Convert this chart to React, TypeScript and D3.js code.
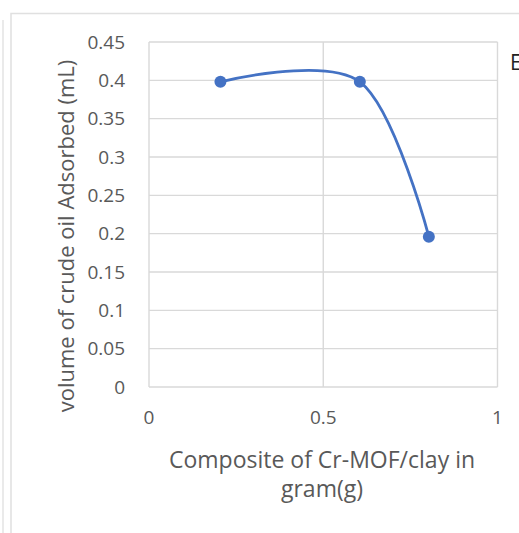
import * as d3 from "d3";
import React, { useRef, useEffect } from "react";

// composite mass (g) and oil adsorbed (mL)
const massG = [0.205, 0.605, 0.803];
const volumeML = [0.398, 0.398, 0.196];
const yTicks = [0, 0.05, 0.1, 0.15, 0.2, 0.25, 0.3, 0.35, 0.4, 0.45];
const xTicks = [0, 0.5, 1];

const W = 519;
const H = 533;

function Chart() {
  const ref = useRef<SVGSVGElement>(null);

  useEffect(() => {
    const svg = d3.select(ref.current);
    svg.selectAll("*").remove();

    const x = d3.scaleLinear().domain([0, 1]).range([149, 497.5]);
    const y = d3.scaleLinear().domain([0, 0.45]).range([387, 42]);
    const font = "'Open Sans', 'Noto Sans', sans-serif";
    const grey = "#595959";

    // frames of the chart boxes
    svg.append("line").attr("x1", 3).attr("x2", 3).attr("y1", 20).attr("y2", H)
      .attr("stroke", "#e3e3e3").attr("stroke-width", 1.5);
    svg.append("path").attr("d", `M11,${H}V13.5H${W}`)
      .attr("fill", "none").attr("stroke", "#e0e0e0").attr("stroke-width", 1.5);

    // gridlines
    svg.append("g").selectAll("line").data(yTicks).enter().append("line")
      .attr("x1", x(0)).attr("x2", x(1))
      .attr("y1", (d) => y(d)).attr("y2", (d) => y(d))
      .attr("stroke", "#d9d9d9").attr("stroke-width", 1.4);
    svg.append("g").selectAll("line").data(xTicks).enter().append("line")
      .attr("x1", (d) => x(d)).attr("x2", (d) => x(d))
      .attr("y1", y(0.45)).attr("y2", y(0))
      .attr("stroke", "#d9d9d9").attr("stroke-width", 1.4);

    // tick labels
    svg.append("g").selectAll("text").data(yTicks).enter().append("text")
      .attr("x", 125).attr("y", (d) => y(d)).attr("dy", "0.35em")
      .attr("text-anchor", "end").attr("font-family", font).attr("font-size", 19)
      .attr("fill", grey).text((d) => String(d));
    svg.append("g").selectAll("text").data(xTicks).enter().append("text")
      .attr("x", (d) => x(d)).attr("y", 417).attr("dy", "0.35em")
      .attr("text-anchor", "middle").attr("font-family", font).attr("font-size", 19)
      .attr("fill", grey).text((d) => String(d));

    // axis titles
    svg.append("text")
      .attr("transform", "translate(74,236) rotate(-90)")
      .attr("text-anchor", "middle")
      .attr("font-family", font).attr("font-size", 22).attr("fill", grey)
      .text("volume of crude oil Adsorbed (mL)");
    const xt = svg.append("text").attr("text-anchor", "middle")
      .attr("font-family", font).attr("font-size", 23).attr("fill", grey);
    xt.append("tspan").attr("x", 322).attr("y", 468).text("Composite of Cr-MOF/clay in");
    xt.append("tspan").attr("x", 322).attr("y", 497).text("gram(g)");

    // partial label at the right edge
    svg.append("text").attr("x", 510).attr("y", 70)
      .attr("font-family", font).attr("font-size", 21).attr("fill", "#222")
      .text("E");

    // smoothed series line
    const pts = massG.map((m, i) => [m, volumeML[i]] as [number, number]);
    const line = d3.line<[number, number]>()
      .x((d) => x(d[0])).y((d) => y(d[1]))
      .curve(d3.curveCardinal.tension(0));
    svg.append("path").datum(pts).attr("d", line)
      .attr("fill", "none").attr("stroke", "#4472c4").attr("stroke-width", 2.8);

    svg.append("g").selectAll("circle").data(pts).enter().append("circle")
      .attr("cx", (d) => x(d[0])).attr("cy", (d) => y(d[1])).attr("r", 6)
      .attr("fill", "#4472c4");
  }, []);

  return <svg ref={ref} width={W} height={H} style={{ display: "block" }} />;
}

export default function App() {
  return (
    <div style={{ position: "absolute", left: 0, top: 0 }}>
      <Chart />
    </div>
  );
}
